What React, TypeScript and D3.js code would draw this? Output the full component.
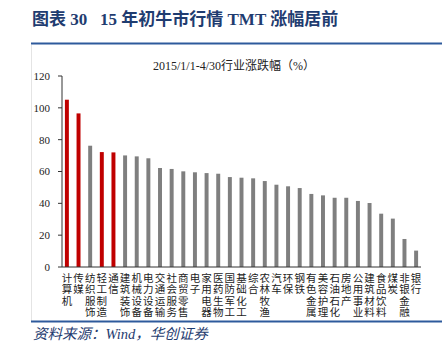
import React from "react";
import * as d3 from "d3";

// 2015/1/1-4/30 industry returns (%)
const categories = [
  "计算机", "传媒", "纺织服饰", "轻工制造", "通信", "建筑装饰", "机械设备", "电力设备",
  "交通运输", "社会服务", "商贸零售", "电子", "家用电器", "医药生物", "国防军工", "基础化工",
  "综合", "农林牧渔", "汽车", "环保", "钢铁", "有色金属", "美容护理", "石油石化",
  "房地产", "公用事业", "建筑材料", "食品饮料", "煤炭", "非银金融", "银行",
];
const values = [
  105.1, 96.5, 76.2, 72.2, 72, 70.1, 69.5, 68.3, 62.2, 61.6, 60.1, 59.5, 59, 58.6, 56.5, 56.1,
  55.7, 54, 51.7, 50.7, 49.6, 45.9, 45, 43.5, 43.5, 41.5, 40.2, 33.5, 30.4, 17.6, 10.3,
];
// TMT sectors highlighted in red
const highlighted = ["计算机", "传媒", "轻工制造", "通信"];
const yTicks = [0, 20, 40, 60, 80, 100, 120];

const serif = '"Liberation Serif", "Times New Roman", "Noto Sans CJK SC", serif';
const cjk = '"Liberation Serif", "Noto Sans CJK SC", serif';

export default function App() {
  const width = 442;
  const height = 351;
  const plot = { left: 62, right: 421, top: 76, bottom: 267 };

  const x = d3
    .scaleBand()
    .domain(categories)
    .range([plot.left, plot.right])
    .paddingInner(0.66)
    .paddingOuter(0.25);

  const y = d3.scaleLinear().domain([0, 120]).range([plot.bottom, plot.top]);

  return (
    <svg
      width={width}
      height={height}
      style={{ position: "absolute", left: 0, top: 0, background: "#fff" }}
    >
      {/* header */}
      <text
        x={32}
        y={25}
        fill="#1f3c70"
        fontFamily={cjk}
        fontWeight="bold"
        fontSize={17}
      >
        图表 30{"\u00a0\u00a0\u00a0"}15 年初牛市行情 TMT 涨幅居前
      </text>
      <line x1={31} x2={442} y1={43.5} y2={43.5} stroke="#2e5a9c" strokeWidth={2} />
      <line x1={31.5} x2={31.5} y1={45} y2={321} stroke="#e4e4e4" strokeWidth={1} />

      {/* chart title */}
      <text
        x={234}
        y={70}
        textAnchor="middle"
        fontFamily={cjk}
        fontSize={12}
        fill="#222"
      >
        2015/1/1-4/30行业涨跌幅（%）
      </text>

      {/* bars */}
      {categories.map((c, i) => (
        <rect
          key={c}
          x={x(c)}
          y={y(values[i])}
          width={x.bandwidth()}
          height={y(0) - y(values[i])}
          fill={highlighted.includes(c) ? "#c00000" : "#7f7f7f"}
        />
      ))}

      {/* y axis */}
      <line x1={plot.left} x2={plot.left} y1={plot.top} y2={plot.bottom} stroke="#333" />
      {yTicks.map((t) => (
        <g key={t}>
          <line x1={plot.left - 4} x2={plot.left} y1={y(t)} y2={y(t)} stroke="#333" />
          <text
            x={plot.left - 12}
            y={y(t)}
            dy="0.35em"
            textAnchor="end"
            fontFamily={serif}
            fontSize={11}
            fill="#222"
          >
            {t}
          </text>
        </g>
      ))}

      {/* x axis */}
      <line x1={plot.left} x2={plot.right} y1={plot.bottom} y2={plot.bottom} stroke="#333" />
      {categories.map((c) => (
        <text
          key={c}
          x={(x(c) as number) + x.bandwidth() / 2}
          y={plot.bottom + 15}
          textAnchor="middle"
          fontFamily={cjk}
          fontSize={10.5}
          fill="#222"
        >
          {c.split("").map((ch, j) => (
            <tspan key={j} x={(x(c) as number) + x.bandwidth() / 2} dy={j === 0 ? 0 : 11.3}>
              {ch}
            </tspan>
          ))}
        </text>
      ))}

      {/* footer */}
      <line x1={31} x2={442} y1={321.5} y2={321.5} stroke="#2e5a9c" strokeWidth={2} />
      <text
        x={33}
        y={339}
        fill="#1f3c70"
        fontFamily={cjk}
        fontStyle="italic"
        fontSize={14.5}
      >
        资料来源：Wind，华创证券
      </text>
    </svg>
  );
}
